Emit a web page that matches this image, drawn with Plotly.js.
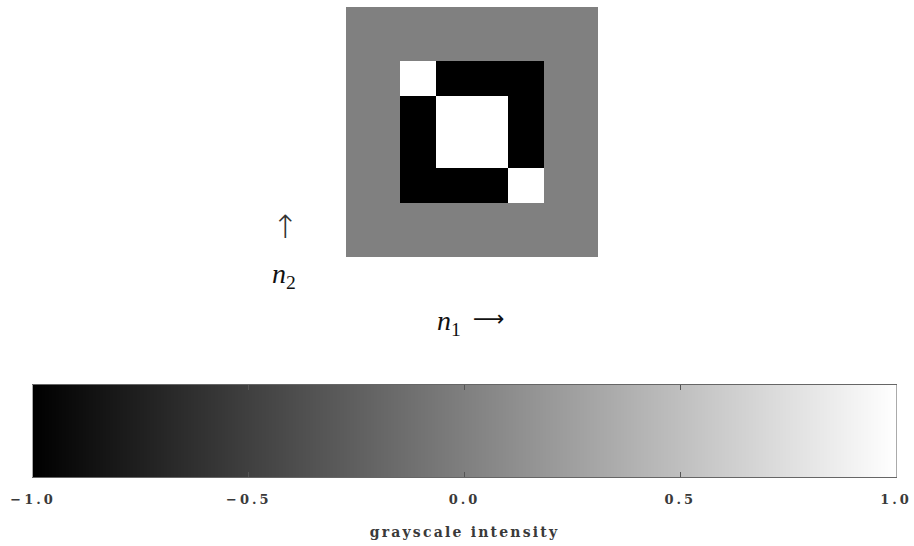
<!DOCTYPE html>
<html>
<head>
<meta charset="utf-8">
<script src="https://cdn.plot.ly/plotly-3.0.1.min.js"></script>
<style>html,body{margin:0;padding:0;background:#fff;}#chart{width:914px;height:546px;}</style>
</head>
<body>
<div id="chart"></div>
<script>
// grayscale intensity image, rows listed top to bottom (n2 decreasing), 14 x 14
var row0  = [0,0,0,0,0,0,0,0,0,0,0,0,0,0];
var row1  = [0,0,0,0,0,0,0,0,0,0,0,0,0,0];
var row2  = [0,0,0,0,0,0,0,0,0,0,0,0,0,0];
var row3  = [0,0,0,1,1,-1,-1,-1,-1,-1,-1,0,0,0];
var row4  = [0,0,0,1,1,-1,-1,-1,-1,-1,-1,0,0,0];
var row5  = [0,0,0,-1,-1,1,1,1,1,-1,-1,0,0,0];
var row6  = [0,0,0,-1,-1,1,1,1,1,-1,-1,0,0,0];
var row7  = [0,0,0,-1,-1,1,1,1,1,-1,-1,0,0,0];
var row8  = [0,0,0,-1,-1,1,1,1,1,-1,-1,0,0,0];
var row9  = [0,0,0,-1,-1,-1,-1,-1,-1,1,1,0,0,0];
var row10 = [0,0,0,-1,-1,-1,-1,-1,-1,1,1,0,0,0];
var row11 = [0,0,0,0,0,0,0,0,0,0,0,0,0,0];
var row12 = [0,0,0,0,0,0,0,0,0,0,0,0,0,0];
var row13 = [0,0,0,0,0,0,0,0,0,0,0,0,0,0];
var image = [row0,row1,row2,row3,row4,row5,row6,row7,row8,row9,row10,row11,row12,row13];

// colour bar
var cbTickVals = [-1.0, -0.5, 0.0, 0.5, 1.0];
var cbTickText = ["\u22121.0", "\u22120.5", "0.0", "0.5", "1.0"];
var cbTitle = "grayscale intensity";

var grayScale = [[0, "rgb(0,0,0)"], [1, "rgb(255,255,255)"]];
var serif = "Liberation Serif, DejaVu Serif, serif";
var cbFont = {family: "DejaVu Serif", size: 13, weight: "bold", color: "#3a3a3a"};
var cbTitleFont = {family: "DejaVu Serif", size: 14, weight: "bold", color: "#3a3a3a"};

function spaced(s, px) {
  return '<span style="letter-spacing:' + px + 'px">' + s + '</span>';
}

var traces = [
  {
    type: "heatmap",
    z: image,
    colorscale: grayScale,
    zmin: -1, zmax: 1,
    showscale: false,
    xaxis: "x", yaxis: "y",
    hoverinfo: "skip"
  },
  {
    type: "heatmap",
    x: cbTickVals,
    y: [0],
    z: [cbTickVals],
    zsmooth: "best",
    colorscale: grayScale,
    zmin: -1, zmax: 1,
    showscale: false,
    xaxis: "x2", yaxis: "y2",
    hoverinfo: "skip"
  }
];

var layout = {
  width: 914, height: 546,
  margin: {l: 0, r: 0, t: 0, b: 0},
  paper_bgcolor: "#fff", plot_bgcolor: "#fff",
  showlegend: false,
  xaxis: {domain: [346/914, 598/914], visible: false, range: [-0.5, 13.5], fixedrange: true},
  yaxis: {domain: [1-257/546, 1-7/546], visible: false, range: [13.5, -0.5], fixedrange: true},
  xaxis2: {
    domain: [33/914, 896/914], anchor: "y2",
    range: [-1, 1],
    tickvals: cbTickVals, ticktext: cbTickText.map(function (t) { return spaced(t, 3); }),
    ticks: "inside", ticklen: 5, tickwidth: 1, tickcolor: "#555",
    mirror: "ticks", showline: true, linecolor: "#666", linewidth: 1,
    showgrid: false, zeroline: false,
    ticklabelstandoff: 10,
    tickfont: cbFont,
    title: {text: spaced(cbTitle, 2.2), font: cbTitleFont, standoff: 21}
  },
  yaxis2: {
    domain: [1-477/546, 1-385/546], anchor: "x2",
    range: [-0.5, 0.5],
    showticklabels: false, ticks: "", showgrid: false, zeroline: false,
    showline: true, mirror: true, linecolor: "#aaa", linewidth: 1
  },
  annotations: [
    {xref: "paper", yref: "paper", x: 285/914, y: 1-227/546, xanchor: "center", yanchor: "middle",
     text: "\u2191", showarrow: false, font: {family: "DejaVu Sans", size: 32, weight: 300, color: "#333"}},
    {xref: "paper", yref: "paper", x: 284/914, y: 1-275/546, xanchor: "center", yanchor: "middle",
     text: "<i>n</i><sub>2</sub>", showarrow: false, font: {family: serif, size: 28, color: "#111"}},
    {xref: "paper", yref: "paper", x: 449/914, y: 1-322/546, xanchor: "center", yanchor: "middle",
     text: "<i>n</i><sub>1</sub>", showarrow: false, font: {family: serif, size: 28, color: "#111"}},
    {xref: "paper", yref: "paper", x: 489/914, y: 1-318/546, xanchor: "center", yanchor: "middle",
     text: "\u27F6", showarrow: false, font: {family: "DejaVu Sans", size: 22, color: "#111"}}
  ]
};

Plotly.newPlot("chart", traces, layout, {displayModeBar: false, staticPlot: true});
</script>
</body>
</html>
